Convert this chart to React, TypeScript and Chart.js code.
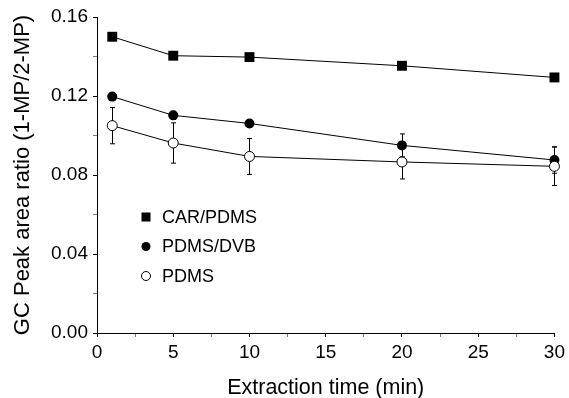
import React, { useEffect, useRef } from 'react';
import { Chart, registerables } from 'chart.js';

Chart.register(...registerables);

const times = [1, 5, 10, 20, 30];
const carPdms = [0.150, 0.1404, 0.1397, 0.1353, 0.1294];
const carPdmsErr = [0, 0, 0, 0, 0];
const pdmsDvb = [0.1197, 0.1102, 0.1061, 0.0950, 0.0876];
const pdmsDvbErr = [0.002, 0.002, 0.002, 0.0058, 0.0067];
const pdms = [0.1050, 0.0962, 0.0894, 0.0866, 0.0844];
const pdmsErr = [0.0092, 0.0102, 0.0091, 0.0086, 0.0097];
const seriesLabels = ['CAR/PDMS', 'PDMS/DVB', 'PDMS'];
const xTitle = 'Extraction time (min)';
const yTitle = 'GC Peak area ratio (1-MP/2-MP)';

const FONT = "'Liberation Sans', Arial, sans-serif";

const errorBarPlugin = {
  id: 'errorBars',
  beforeDatasetsDraw(chart: any) {
    const { ctx } = chart;
    const yScale = chart.scales.y;
    ctx.save();
    ctx.strokeStyle = '#000';
    ctx.lineWidth = 1;
    chart.data.datasets.forEach((ds: any, di: number) => {
      const meta = chart.getDatasetMeta(di);
      const errs: number[] = ds.errors || [];
      meta.data.forEach((pt: any, i: number) => {
        const e = errs[i];
        if (!e) return;
        const v = ds.data[i].y;
        const yTop = yScale.getPixelForValue(v + e);
        const yBot = yScale.getPixelForValue(v - e);
        const x = Math.round(pt.x) + 0.5;
        const cap = 2.5;
        ctx.beginPath();
        ctx.moveTo(x, yTop);
        ctx.lineTo(x, yBot);
        ctx.moveTo(x - cap, yTop);
        ctx.lineTo(x + cap, yTop);
        ctx.moveTo(x - cap, yBot);
        ctx.lineTo(x + cap, yBot);
        ctx.stroke();
      });
    });
    ctx.restore();
  },
};

const legendPlugin = {
  id: 'insideLegend',
  afterDraw(chart: any, _args: any, opts: any) {
    const { ctx } = chart;
    ctx.save();
    ctx.font = `${opts.fontSize}px ${FONT}`;
    ctx.textBaseline = 'middle';
    ctx.textAlign = 'left';
    chart.data.datasets.forEach((ds: any, i: number) => {
      const y = opts.y + i * opts.gap;
      const x = opts.x;
      ctx.fillStyle = '#000';
      ctx.strokeStyle = '#000';
      ctx.lineWidth = 1;
      if (ds.pointStyle === 'rect') {
        ctx.fillRect(x - 4.5, y - 4.5, 9, 9);
      } else {
        ctx.beginPath();
        ctx.arc(x, y, 4.5, 0, Math.PI * 2);
        if (ds.pointBackgroundColor === '#fff') {
          ctx.fillStyle = '#fff';
          ctx.fill();
          ctx.stroke();
        } else {
          ctx.fill();
        }
      }
      ctx.fillStyle = '#000';
      ctx.fillText(ds.label, opts.textX, y + 1);
    });
    ctx.restore();
  },
};

export default function App() {
  const ref = useRef<HTMLCanvasElement>(null);
  useEffect(() => {
    document.body.style.margin = '0';
    const toPts = (vals: number[]) => vals.map((v, i) => ({ x: times[i], y: v }));
    const chart = new Chart(ref.current!, {
      type: 'line',
      data: {
        datasets: [
          {
            label: seriesLabels[0],
            data: toPts(carPdms),
            errors: carPdmsErr,
            borderColor: '#000',
            borderWidth: 1,
            pointStyle: 'rect',
            pointRadius: 7,
            pointBackgroundColor: '#000',
            pointBorderColor: '#000',
            pointBorderWidth: 0,
            clip: false,
            order: 3,
          } as any,
          {
            label: seriesLabels[1],
            data: toPts(pdmsDvb),
            errors: pdmsDvbErr,
            borderColor: '#000',
            borderWidth: 1,
            pointStyle: 'circle',
            pointRadius: 5,
            pointBackgroundColor: '#000',
            pointBorderColor: '#000',
            pointBorderWidth: 0,
            clip: false,
            order: 2,
          } as any,
          {
            label: seriesLabels[2],
            data: toPts(pdms),
            errors: pdmsErr,
            borderColor: '#000',
            borderWidth: 1,
            pointStyle: 'circle',
            pointRadius: 5,
            pointBackgroundColor: '#fff',
            pointBorderColor: '#000',
            pointBorderWidth: 1,
            clip: false,
            order: 1,
          } as any,
        ],
      },
      options: {
        animation: false,
        responsive: false,
        layout: { padding: { left: 0, top: 17, right: 13, bottom: 0 } },
        plugins: {
          legend: { display: false },
          tooltip: { enabled: false },
          insideLegend: { x: 146, y: 217, gap: 29.5, textX: 162, fontSize: 18 },
        } as any,
        scales: {
          x: {
            type: 'linear',
            min: 0,
            max: 30,
            afterFit: (s: any) => { s.height = 65; },
            ticks: {
              stepSize: 2.5,
              autoSkip: false,
              maxRotation: 0,
              padding: 4,
              color: '#000',
              font: { family: FONT, size: 19 },
              callback: (v: any) => (Number(v) % 5 === 0 ? String(v) : ''),
            },
            grid: {
              drawOnChartArea: false,
              drawTicks: true,
              tickLength: 4,
              tickColor: (c: any) => (c.tick && c.tick.value % 5 === 0 ? '#000' : '#777'),
            },
            border: { display: true, color: '#000', width: 1 },
            title: {
              display: true,
              text: xTitle,
              color: '#000',
              font: { family: FONT, size: 21.5, lineHeight: 1 },
              padding: { top: 0, bottom: -1 },
            },
          },
          y: {
            type: 'linear',
            min: 0,
            max: 0.16,
            afterFit: (s: any) => { s.width = 97; },
            ticks: {
              stepSize: 0.02,
              autoSkip: false,
              padding: 5,
              color: '#000',
              font: { family: FONT, size: 19 },
              callback: (v: any) => (Math.round(Number(v) * 100) % 4 === 0 ? Number(v).toFixed(2) : ''),
            },
            grid: {
              drawOnChartArea: false,
              drawTicks: true,
              tickLength: 4,
              tickColor: (c: any) => (c.tick && Math.round(c.tick.value * 100) % 4 === 0 ? '#000' : '#777'),
            },
            border: { display: true, color: '#000', width: 1 },
            title: {
              display: true,
              text: yTitle,
              color: '#000',
              font: { family: FONT, size: 22, lineHeight: 1 },
              padding: { top: 12, bottom: 0 },
            },
          },
        },
      } as any,
      plugins: [errorBarPlugin, legendPlugin],
    });
    return () => chart.destroy();
  }, []);
  return (
    <div style={{ width: 569, height: 398 }}>
      <canvas ref={ref} width={569} height={398} style={{ display: 'block' }} />
    </div>
  );
}
